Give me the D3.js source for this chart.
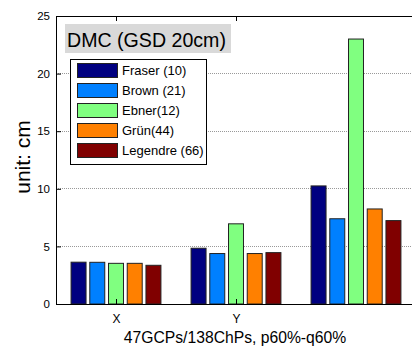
<!DOCTYPE html>
<html><head><meta charset="utf-8">
<script src="https://cdn.jsdelivr.net/npm/d3@7/dist/d3.min.js"></script>
<style>body{margin:0;background:#fff;} svg{display:block;font-family:"Liberation Sans",Arial,sans-serif;}</style>
</head><body>
<svg id="c" width="412" height="346"></svg>
<script>
const categories = ["X", "Y", "Z"];
const tickLabels = ["X", "Y"];
const series = ["Fraser (10)", "Brown (21)", "Ebner(12)", "Grün(44)", "Legendre (66)"];
const colors = ["#000080", "#0080ff", "#80ff80", "#ff8000", "#800000"];
const fraser   = [3.63, 4.84, 10.25];
const brown    = [3.62, 4.38, 7.40];
const ebner    = [3.53, 6.96, 23.0];
const gruen    = [3.53, 4.38, 8.25];
const legendre = [3.36, 4.46, 7.24];
const values = [fraser, brown, ebner, gruen, legendre];
const yTicks = [0, 5, 10, 15, 20, 25];
const gridTicks = [5, 10, 15, 20];

const svg = d3.select("#c");
const L = 56, T = 16, B = 304;
const x = d3.scaleLinear().domain([0.5, 3.5]).range([L, L + 360]);
const y = d3.scaleLinear().domain([0, 25]).range([B, T]);
const R = x(3.5);

// grid
svg.append("g").selectAll("line").data(gridTicks).join("line")
  .attr("x1", L).attr("x2", R).attr("y1", d => y(d)).attr("y2", d => y(d))
  .attr("stroke", "#999").attr("stroke-width", 1).attr("stroke-dasharray", "1,1")
  .attr("shape-rendering", "crispEdges");

// bars
categories.forEach((c, i) => {
  const sub = d3.scaleBand().domain(series)
    .range([x(i + 1 - 0.39), x(i + 1 + 0.39)]).paddingInner(0.2).paddingOuter(0.1);
  svg.append("g").selectAll("rect").data(series).join("rect")
    .attr("x", s => sub(s)).attr("width", sub.bandwidth())
    .attr("y", (s, k) => y(values[k][i]))
    .attr("height", (s, k) => y(0) - y(values[k][i]))
    .attr("fill", (s, k) => colors[k]).attr("stroke", "#222").attr("stroke-width", 1);
});

// axes box
svg.append("line").attr("x1", L).attr("x2", L).attr("y1", T).attr("y2", B).attr("stroke", "#000").attr("shape-rendering", "crispEdges");
svg.append("line").attr("x1", L).attr("x2", R).attr("y1", T).attr("y2", T).attr("stroke", "#000").attr("shape-rendering", "crispEdges");
svg.append("line").attr("x1", L).attr("x2", R).attr("y1", B).attr("y2", B).attr("stroke", "#000").attr("shape-rendering", "crispEdges");

// y axis ticks (inward)
const yAxis = d3.axisLeft(y).tickValues(yTicks).tickSize(-5).tickPadding(6);
const gy = svg.append("g").attr("transform", `translate(${L},0)`).call(yAxis);
gy.select(".domain").remove();
gy.selectAll("text").attr("font-size", 11.5).attr("font-family", "Liberation Sans, Arial, sans-serif").attr("fill", "#000");
gy.selectAll("line").attr("stroke", "#000");

// x axis ticks
const xb = d3.axisBottom(x).tickValues([1, 2]).tickFormat((d, i) => tickLabels[i]).tickSize(-5).tickPadding(10);
const gx = svg.append("g").attr("transform", `translate(0,${B})`).call(xb);
gx.select(".domain").remove();
gx.selectAll("text").attr("font-size", 12).attr("font-family", "Liberation Sans, Arial, sans-serif").attr("fill", "#000");
gx.selectAll("line").attr("stroke", "#000");
const xt = d3.axisTop(x).tickValues([1, 2]).tickFormat("").tickSize(-5);
const gxt = svg.append("g").attr("transform", `translate(0,${T})`).call(xt);
gxt.select(".domain").remove();
gxt.selectAll("line").attr("stroke", "#000");

// y label
svg.append("text").attr("transform", "translate(30,157) rotate(-90)")
  .attr("text-anchor", "middle").attr("font-size", 21).text("unit: cm");
// x label
svg.append("text").attr("x", 235).attr("y", 343).attr("text-anchor", "middle")
  .attr("font-size", 15.7).text("47GCPs/138ChPs, p60%-q60%");

// title box
svg.append("rect").attr("x", 65).attr("y", 24).attr("width", 166).attr("height", 29).attr("fill", "#d9d9d9");
svg.append("text").attr("x", 67).attr("y", 46.5).attr("font-size", 19.6).text("DMC (GSD 20cm)");

// legend
const lg = svg.append("g");
lg.append("rect").attr("x", 70.5).attr("y", 59.5).attr("width", 136).attr("height", 105)
  .attr("fill", "#fff").attr("stroke", "#000").attr("stroke-width", 1);
series.forEach((s, k) => {
  const cy = 70.5 + k * 20;
  lg.append("rect").attr("x", 77.5).attr("y", cy - 7).attr("width", 40).attr("height", 14)
    .attr("fill", colors[k]).attr("stroke", "#222");
  lg.append("text").attr("x", 122).attr("y", cy + 4.5).attr("font-size", 13).text(s);
});
</script>
</body></html>
